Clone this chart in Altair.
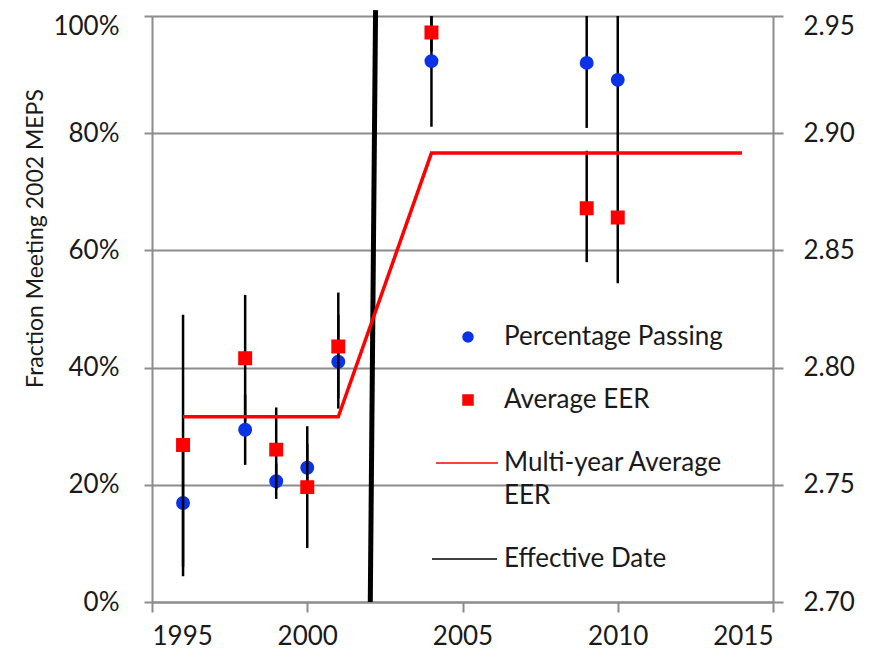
import altair as alt
import pandas as pd

# ---- data ----
years = [1996, 1998, 1999, 2000, 2001, 2004, 2009, 2010]
pct_passing = [0.169, 0.294, 0.206, 0.229, 0.410, 0.923, 0.920, 0.891]
pct_low = [0.06, 0.234, 0.176, 0.19, 0.33, 0.811, 0.809, 0.766]
pct_high = [0.28, 0.354, 0.236, 0.27, 0.49, 1.0, 1.0, 1.0]

avg_eer = [2.767, 2.804, 2.765, 2.749, 2.809, 2.943, 2.868, 2.864]
eer_low = [2.711, 2.777, 2.748, 2.723, 2.787, 2.935, 2.845, 2.836]
eer_high = [2.8225, 2.831, 2.783, 2.775, 2.832, 2.95, 2.8925, 2.8925]

multi_years = [1996, 2001, 2004, 2014]
multi_eer = [2.779, 2.779, 2.8915, 2.8915]

effective_x = [2002.03, 2002.2]
effective_y = [0.0, 1.01]

series_names = ["Percentage Passing", "Average EER", "Multi-year Average EER", "Effective Date"]
series_fill = ["#0a32e6", "#ff0000", "#ff0000", "#000000"]
series_shape = ["circle", "square", "M-6.4,0H6.0", "M-7.2,0H5.8"]

x_ticks = [1995, 2000, 2005, 2010, 2015]
left_ticks = [0, 0.2, 0.4, 0.6, 0.8, 1.0]
right_ticks = [2.70, 2.75, 2.80, 2.85, 2.90, 2.95]

# ---- tables ----
blue = pd.DataFrame({"year": years, "pct": pct_passing, "lo": pct_low, "hi": pct_high,
                     "series": series_names[0]})
red = pd.DataFrame({"year": years, "eer": avg_eer, "lo": eer_low, "hi": eer_high,
                    "series": series_names[1]})
multi = pd.DataFrame({"year": multi_years, "eer": multi_eer})
eff = pd.DataFrame({"year": effective_x, "pct": effective_y})

FONT = "Lato"
TXT = "#1a1a1a"
GRID = "#8c8c8c"

x_enc = alt.X("year:Q", scale=alt.Scale(domain=[1995, 2015], nice=False, zero=False),
              axis=alt.Axis(values=x_ticks, format="d", title=None, grid=False,
                            domainColor=GRID, domainWidth=2, tickColor=GRID, tickWidth=2,
                            tickSize=10, labelFont=FONT, labelFontSize=26, labelColor=TXT,
                            labelPadding=11))

left_axis = alt.Axis(values=left_ticks, format=".0%", title="Fraction Meeting 2002 MEPS",
                     orient="left", grid=True, gridColor=GRID, gridWidth=2,
                     domainColor=GRID, domainWidth=2, tickColor=GRID, tickWidth=2, tickSize=8,
                     labelFont=FONT, labelFontSize=26, labelColor=TXT, labelPadding=25,
                     labelOffset={"condition": {"test": "datum.value >= 0.99", "value": 10}, "value": 0},
                     titleFont=FONT, titleFontSize=23, titleFontWeight="normal",
                     titleColor=TXT, titlePadding=5, titleY=222)
left_scale = alt.Scale(domain=[0, 1], nice=False, zero=False)

right_axis = alt.Axis(values=right_ticks, format=".2f", title=None, orient="right", grid=False,
                      domainColor=GRID, domainWidth=2, tickColor=GRID, tickWidth=2, tickSize=10,
                      labelFont=FONT, labelFontSize=26, labelColor=TXT, labelPadding=20,
                      labelOffset={"condition": {"test": "datum.value >= 2.945", "value": 10}, "value": 0})
right_scale = alt.Scale(domain=[2.70, 2.95], nice=False, zero=False)

legend = alt.Legend(title=None, orient="none", legendX=303, legendY=308,
                    labelFont=FONT, labelFontSize=26, labelColor=TXT, labelLimit=500,
                    labelOffset=23, rowPadding=37,
                    labelExpr="datum.label == 'Multi-year Average EER' ? ['Multi-year Average', 'EER'] : datum.label")

fill_enc = alt.Fill("series:N", scale=alt.Scale(domain=series_names, range=series_fill), legend=legend)
stroke_enc = alt.Stroke("series:N", scale=alt.Scale(domain=series_names, range=series_fill), legend=legend)
shape_enc = alt.Shape("series:N", scale=alt.Scale(domain=series_names, range=series_shape), legend=legend)

# left-axis group
blue_err = alt.Chart(blue).mark_rule(color="black", strokeWidth=2.5).encode(
    x=x_enc, y=alt.Y("lo:Q", scale=left_scale, axis=left_axis), y2="hi:Q")
eff_line = alt.Chart(eff).mark_line(color="black", strokeWidth=5).encode(
    x=x_enc, y=alt.Y("pct:Q", scale=left_scale, axis=left_axis))
blue_pts = alt.Chart(blue).mark_point(filled=True, size=120, strokeWidth=3, opacity=1).encode(
    x=x_enc, y=alt.Y("pct:Q", scale=left_scale, axis=left_axis),
    fill=fill_enc, stroke=stroke_enc, shape=shape_enc)
left = alt.layer(blue_err, eff_line, blue_pts)

# right-axis group
red_err = alt.Chart(red).mark_rule(color="black", strokeWidth=2.5).encode(
    x=x_enc, y=alt.Y("lo:Q", scale=right_scale, axis=right_axis), y2="hi:Q")
red_line = alt.Chart(multi).mark_line(color="#ff0000", strokeWidth=3.5).encode(
    x=x_enc, y=alt.Y("eer:Q", scale=right_scale, axis=right_axis))
red_pts = alt.Chart(red).mark_point(filled=True, size=120, strokeWidth=3, opacity=1).encode(
    x=x_enc, y=alt.Y("eer:Q", scale=right_scale, axis=right_axis),
    fill=fill_enc, stroke=stroke_enc, shape=shape_enc)
right = alt.layer(red_err, red_line, red_pts)

chart = alt.layer(left, right).resolve_scale(y="independent").properties(
    width=621, height=586,
    autosize=alt.AutoSizeParams(type="none"),
    padding={"left": 144, "top": 8, "right": 90, "bottom": 48},
).configure(style={"guide-label": {"lineHeight": 33}}).configure_view(stroke="transparent")

chart.save("out.html", embed_options={"renderer": "svg", "actions": False})
